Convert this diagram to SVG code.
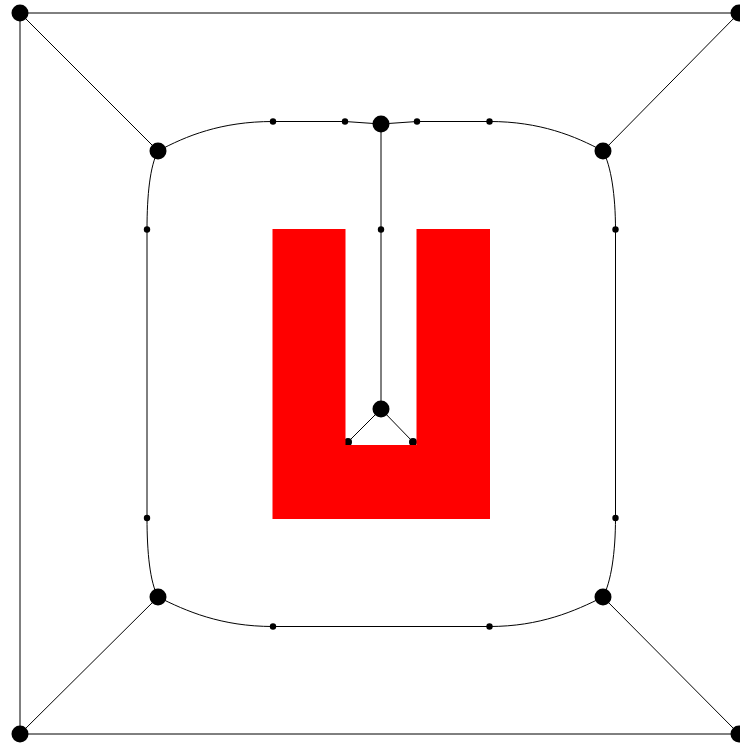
<svg xmlns="http://www.w3.org/2000/svg" width="740" height="744" viewBox="0 0 740 744">
<style>
.e{fill:none;stroke:#000;stroke-width:1}
.n{fill:#000}
.s{fill:#000}
</style>
<rect width="740" height="744" fill="#fff"/>
<g id="connectors">
<line class="e" x1="20" y1="13" x2="739" y2="13"/>
<line class="e" x1="20" y1="13" x2="20" y2="734"/>
<line class="e" x1="20" y1="734" x2="739" y2="734"/>
<line class="e" x1="20" y1="13" x2="158" y2="151"/>
<line class="e" x1="739" y1="13" x2="603" y2="151"/>
<line class="e" x1="20" y1="734" x2="158" y2="597"/>
<line class="e" x1="739" y1="734" x2="603" y2="597"/>
<path class="e" d="M273,121.5 L345,121.5 L381,124 L417,121.5 L489.5,121.5 C540,121.5 575,136 603,151 C611,166 615.5,195 615.5,229.5 L615.5,518 C615.5,553 611,582 603,597 C575,611 540,626.5 489.5,626.5 L273,626.5 C221,626.5 186,611 158,597 C150,582 147,553 147,518 L147,229.5 C147,195 150,166 158,151 C186,136 221,121.5 273,121.5 Z"/>
<line class="e" x1="381" y1="124" x2="381" y2="409"/>
<line class="e" x1="381" y1="409" x2="348" y2="442"/>
<line class="e" x1="381" y1="409" x2="413" y2="442"/>
</g>
<g id="n-u1"><circle class="s" cx="348" cy="442" r="4"/></g>
<g id="n-u2"><circle class="s" cx="413" cy="442" r="4"/></g>
<g id="shape-u"><path fill="#f00" d="M272.5,229 H345.5 V445 H416.5 V229 H490 V519 H272.5 Z"/></g>
<g id="n-tl"><circle class="n" cx="20" cy="13" r="8.5"/></g>
<g id="n-tr"><circle class="n" cx="739" cy="13" r="8.5"/></g>
<g id="n-bl"><circle class="n" cx="20" cy="734" r="8.5"/></g>
<g id="n-br"><circle class="n" cx="739" cy="734" r="8.5"/></g>
<g id="n-itl"><circle class="n" cx="158" cy="151" r="8.5"/></g>
<g id="n-itr"><circle class="n" cx="603" cy="151" r="8.5"/></g>
<g id="n-ibl"><circle class="n" cx="158" cy="597" r="8.5"/></g>
<g id="n-ibr"><circle class="n" cx="603" cy="597" r="8.5"/></g>
<g id="n-top"><circle class="n" cx="381" cy="124" r="8.5"/></g>
<g id="n-mid"><circle class="n" cx="381" cy="409" r="8.5"/></g>
<g id="d1"><circle class="s" cx="273" cy="121.5" r="3.2"/></g>
<g id="d2"><circle class="s" cx="345" cy="121.5" r="3.2"/></g>
<g id="d3"><circle class="s" cx="417" cy="121.5" r="3.2"/></g>
<g id="d4"><circle class="s" cx="489.5" cy="121.5" r="3.2"/></g>
<g id="d5"><circle class="s" cx="147" cy="229.5" r="3.2"/></g>
<g id="d6"><circle class="s" cx="615.5" cy="229.5" r="3.2"/></g>
<g id="d7"><circle class="s" cx="147" cy="518" r="3.2"/></g>
<g id="d8"><circle class="s" cx="615.5" cy="518" r="3.2"/></g>
<g id="d9"><circle class="s" cx="273" cy="626.5" r="3.2"/></g>
<g id="d10"><circle class="s" cx="489.5" cy="626.5" r="3.2"/></g>
<g id="d11"><circle class="s" cx="381" cy="229.5" r="3.2"/></g>
</svg>
